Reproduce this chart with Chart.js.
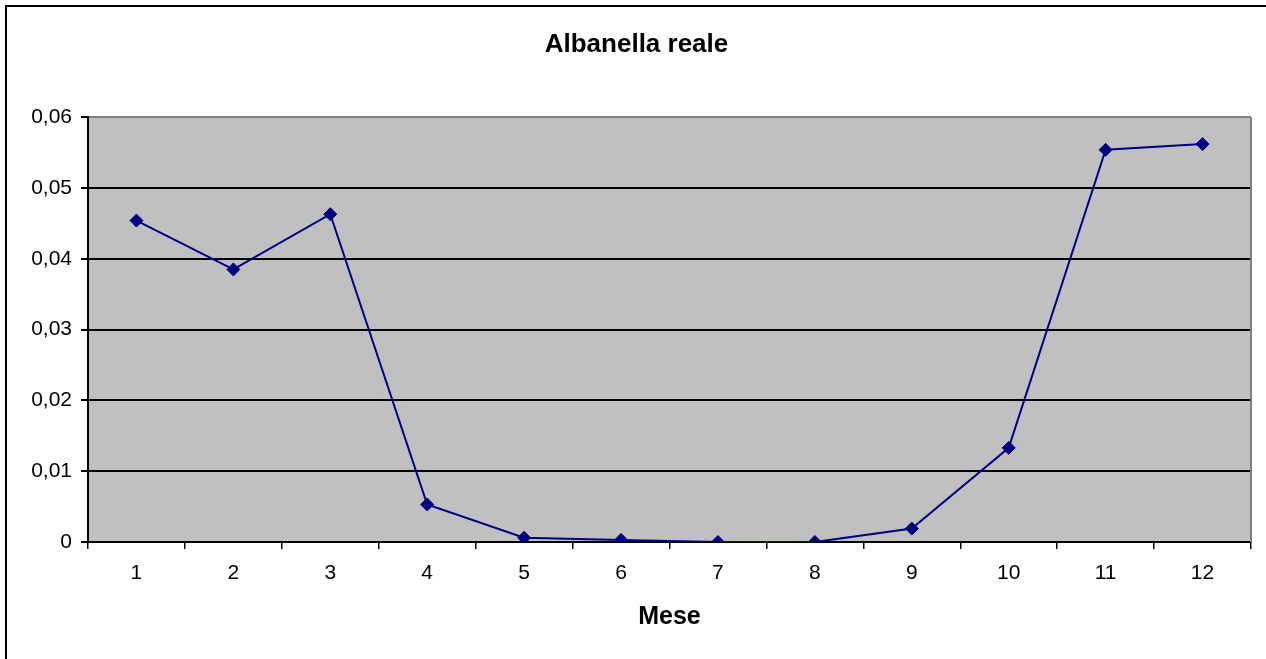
<!DOCTYPE html>
<html>
<head>
<meta charset="utf-8">
<script src="https://cdn.jsdelivr.net/npm/chart.js@4.4.0/dist/chart.umd.min.js"></script>
<style>
  html, body { margin: 0; padding: 0; background: #fff; }
  #wrap { width: 1266px; height: 659px; }
</style>
</head>
<body>
<div id="wrap"><canvas id="chart" width="1266" height="659"></canvas></div>
<script>
const months = ["1", "2", "3", "4", "5", "6", "7", "8", "9", "10", "11", "12"];
const values = [0.0454, 0.0385, 0.0463, 0.0053, 0.0006, 0.0003, 0, 0, 0.0019, 0.0133, 0.0554, 0.0562];
const yMin = 0;
const yMax = 0.06;
const yStep = 0.01;

const font = "'Liberation Sans', Arial, sans-serif";

// white page, black frame and grey plot area
const framePlugin = {
  id: "frame",
  beforeDraw(chart) {
    const { ctx, chartArea } = chart;
    ctx.save();
    ctx.fillStyle = "#ffffff";
    ctx.fillRect(0, 0, chart.width, chart.height);
    ctx.strokeStyle = "#000000";
    ctx.lineWidth = 2;
    ctx.strokeRect(6, 6, 1300, 700);
    ctx.fillStyle = "#c0c0c0";
    ctx.fillRect(chartArea.left, chartArea.top, chartArea.right - chartArea.left, chartArea.bottom - chartArea.top);
    ctx.restore();
  },
  beforeDatasetsDraw(chart) {
    const { ctx, chartArea } = chart;
    ctx.save();
    ctx.strokeStyle = "#808080";
    ctx.lineWidth = 2;
    ctx.beginPath();
    ctx.moveTo(chartArea.right, chartArea.top);
    ctx.lineTo(chartArea.right, chartArea.bottom);
    ctx.stroke();
    ctx.restore();
  },
};

const ctx = document.getElementById("chart").getContext("2d");
new Chart(ctx, {
  type: "line",
  data: {
    labels: months,
    datasets: [
      {
        data: values,
        borderColor: "#000080",
        backgroundColor: "#000080",
        borderWidth: 2,
        pointStyle: "rectRot",
        pointRadius: 6.5,
        pointBorderWidth: 1,
        pointBorderColor: "#000080",
        pointBackgroundColor: "#000080",
        tension: 0,
        fill: false,
      },
    ],
  },
  options: {
    responsive: false,
    animation: false,
    layout: { padding: { left: 22, right: 15, top: 0, bottom: 0 } },
    plugins: {
      legend: { display: false },
      tooltip: { enabled: false },
      title: {
        display: true,
        text: "Albanella reale",
        color: "#000000",
        font: { family: font, size: 26, weight: "bold", lineHeight: 1.2 },
        padding: { top: 29, bottom: 57 },
      },
    },
    scales: {
      x: {
        offset: true,
        afterFit: function (scale) {
          scale.height = 117;
        },
        grid: {
          offset: true,
          drawOnChartArea: false,
          color: "#000000",
          tickLength: 7,
          lineWidth: 1.5,
        },
        border: { color: "#000000", width: 2 },
        ticks: {
          color: "#000000",
          font: { family: font, size: 21 },
          padding: 12,
          autoSkip: false,
          maxRotation: 0,
        },
        title: {
          display: true,
          text: "Mese",
          color: "#000000",
          font: { family: font, size: 25, weight: "bold", lineHeight: 1.2 },
          padding: { top: 0, bottom: 27 },
        },
      },
      y: {
        min: yMin,
        max: yMax,
        afterFit: function (scale) {
          scale.width = 66;
        },
        grid: {
          color: function (c) {
            return c.tick && Math.abs(c.tick.value - yMax) < 1e-9 ? "#808080" : "#000000";
          },
          tickColor: "#000000",
          lineWidth: 2,
          tickLength: 7,
        },
        border: { color: "#000000", width: 2 },
        ticks: {
          stepSize: yStep,
          color: "#000000",
          font: { family: font, size: 21 },
          padding: 9,
          callback: function (value) {
            if (Math.abs(value) < 1e-9) return "0";
            return value.toFixed(2).replace(".", ",");
          },
        },
      },
    },
  },
  plugins: [framePlugin],
});
</script>
</body>
</html>
